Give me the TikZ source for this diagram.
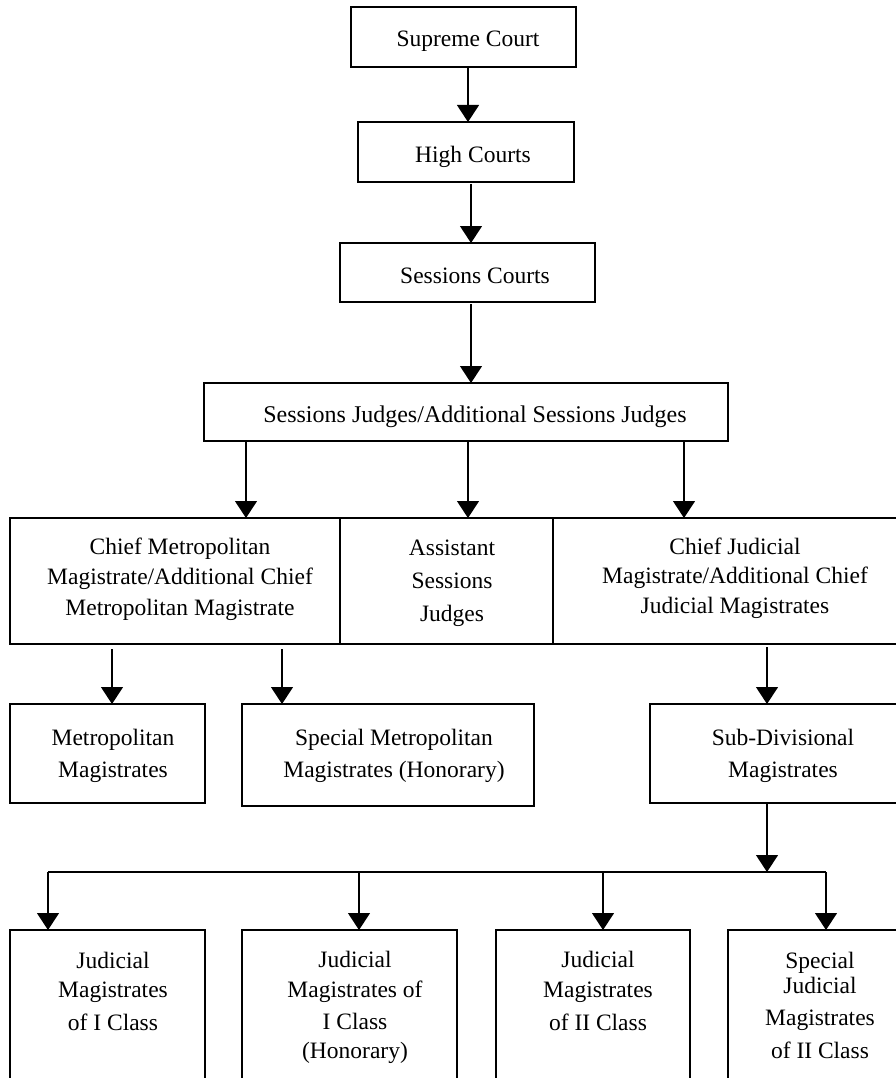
\documentclass[tikz,border=0pt]{standalone}
\usepackage{fontspec}
\setmainfont{Liberation Serif}
\usetikzlibrary{arrows.meta}
\begin{document}
\begin{tikzpicture}[x=1pt,y=-1pt,
  box/.style={draw,line width=1.2pt,inner sep=0pt,outer sep=0pt,rectangle},
  txt/.style={anchor=base,align=center,inner sep=0pt,font=\fontsize{23.5}{30.5}\selectfont},
  arr/.style={line width=1.2pt,-{Triangle[width=22pt,length=17pt]}},
  ln/.style={line width=1.2pt}]
\useasboundingbox (0,0) rectangle (896,1078);
\clip (0,0) rectangle (896,1078);
% boxes
\node[box,minimum width=225pt,minimum height=60pt] (sc) at (463.5,37) {};
\node[box,minimum width=216pt,minimum height=60pt] (hc) at (466,152) {};
\node[box,minimum width=255pt,minimum height=59pt] (ss) at (467.5,272.5) {};
\node[box,minimum width=524pt,minimum height=58pt] (sj) at (466,412) {};
\node[box,minimum width=330pt,minimum height=126pt] (cm) at (175,581) {};
\node[box,minimum width=213pt,minimum height=126pt] (as) at (446.5,581) {};
\node[box,minimum width=352pt,minimum height=126pt] (cj) at (729,581) {};
\node[box,minimum width=195pt,minimum height=99pt] (mm) at (107.5,753.5) {};
\node[box,minimum width=292pt,minimum height=102pt] (smm) at (388,755) {};
\node[box,minimum width=255pt,minimum height=99pt] (sdm) at (777.5,753.5) {};
\node[box,minimum width=195pt,minimum height=180pt] (b1) at (107.5,1020) {};
\node[box,minimum width=215pt,minimum height=180pt] (b2) at (349.5,1020) {};
\node[box,minimum width=194pt,minimum height=180pt] (b3) at (593,1020) {};
\node[box,minimum width=177pt,minimum height=180pt] (b4) at (816.5,1020) {};
% texts (base = baseline of the last line)
\node[txt] (tsc) at (468,47) {Supreme Court};
\node[txt] (thc) at (473,163) {High Courts};
\node[txt] (tss) at (475,283) {Sessions Courts};
\node[txt,font=\fontsize{24}{30.5}\selectfont] (tsj) at (475,422) {Sessions Judges/Additional Sessions Judges};
\node[txt] (tcm) at (180,615) {Chief Metropolitan\\Magistrate/Additional Chief\\Metropolitan Magistrate};
\node[txt] (tas) at (452,621) {Assistant\\[2.5pt]Sessions\\[2.5pt]Judges};
\node[txt] (tcj) at (735,613) {Chief Judicial\\[-1.5pt]Magistrate/Additional Chief\\[-0.5pt]Judicial Magistrates};
\node[txt] (tmm) at (113,777) {Metropolitan\\[1.5pt]Magistrates};
\node[txt] (tsmm) at (394,777) {Special Metropolitan\\[1.5pt]Magistrates (Honorary)};
\node[txt] (tsdm) at (783,777) {Sub-Divisional\\[1.5pt]Magistrates};
\node[txt] (tb1) at (113,1030) {Judicial\\[-2pt]Magistrates\\[2.5pt]of I Class};
\node[txt] (tb2) at (355,1058) {Judicial\\[-1pt]Magistrates of\\[1.5pt]I Class\\[-1.5pt](Honorary)};
\node[txt] (tb3) at (598,1030) {Judicial\\[-1pt]Magistrates\\[2.5pt]of II Class};
\node[txt] (tb4) at (820,1058) {Special\\[-5.5pt]Judicial\\[1.5pt]Magistrates\\[2.5pt]of II Class};
% arrow columns
\coordinate (c1) at (468,0);
\coordinate (c2) at (471,0);
\coordinate (c3) at (246,0);
\coordinate (c4) at (684,0);
\coordinate (c5) at (112,0);
\coordinate (c6) at (282,0);
\coordinate (c7) at (767,0);
\coordinate (d1) at (48,872);
\coordinate (d2) at (359,872);
\coordinate (d3) at (603,872);
\coordinate (d4) at (826,872);
\coordinate (jn) at (767,872);
% connectors
\draw[arr] (sc.south -| c1) -- (hc.north -| c1);
\draw[arr,shorten <=2pt] (hc.south -| c2) -- (ss.north -| c2);
\draw[arr,shorten <=2pt] (ss.south -| c2) -- (sj.north -| c2);
\draw[arr] (sj.south -| c3) -- (cm.north -| c3);
\draw[arr] (sj.south -| c1) -- (as.north -| c1);
\draw[arr] (sj.south -| c4) -- (cj.north -| c4);
\draw[arr,shorten <=5pt] (cm.south -| c5) -- (mm.north -| c5);
\draw[arr,shorten <=5pt] (cm.south -| c6) -- (smm.north -| c6);
\draw[arr,shorten <=3pt] (cj.south -| c7) -- (sdm.north -| c7);
\draw[arr] (sdm.south -| c7) -- (jn);
\draw[ln] (d1) -- (d4);
\draw[arr] (d1) -- (b1.north -| d1);
\draw[arr] (d2) -- (b2.north -| d2);
\draw[arr] (d3) -- (b3.north -| d3);
\draw[arr] (d4) -- (b4.north -| d4);
\end{tikzpicture}
\end{document}
